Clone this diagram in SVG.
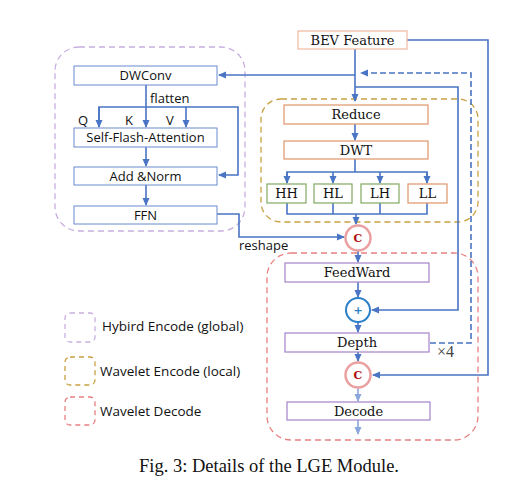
<svg xmlns="http://www.w3.org/2000/svg" width="528" height="497" viewBox="0 0 528 497">
<defs>
<marker id="ah" markerWidth="8" markerHeight="8" refX="7" refY="4" orient="auto" markerUnits="userSpaceOnUse"><path d="M0,0.5 L8,4 L0,7.5 Z" fill="#4a74c4"/></marker>
<marker id="ahl" markerWidth="8" markerHeight="8" refX="7" refY="4" orient="auto" markerUnits="userSpaceOnUse"><path d="M0,0.5 L8,4 L0,7.5 Z" fill="#8aa6dc"/></marker>
</defs>
<style>
.c{fill:none;stroke:#4a74c4;stroke-width:1.6}
.cl{fill:none;stroke:#8aa6dc;stroke-width:1.6}
.bl{fill:#fff;stroke:#6a8ad0;stroke-width:1}
.bo{fill:#fff;stroke:#e0956a;stroke-width:1.2}
.bg{fill:#fff;stroke:#80a860;stroke-width:1.2}
.bp{fill:#fff;stroke:#a482c8;stroke-width:1.2}
.s{font-family:"Open Sans","Liberation Sans",sans-serif;font-size:13px;fill:#111}
.lg{font-family:"Open Sans","Liberation Sans",sans-serif;font-size:13.5px;fill:#111}
.r{font-family:"DejaVu Serif","Liberation Serif",serif;font-size:13px;fill:#111}
.cc{fill:#fff;stroke:#eaa0a0;stroke-width:2.5}
.ct{font-family:"DejaVu Serif","Liberation Serif",serif;font-size:11px;font-weight:bold;fill:#b01010}
</style>
<rect width="528" height="497" fill="#fff"/>
<!-- containers -->
<g id="hybrid-container"><rect x="55" y="47" width="190" height="184" rx="24" fill="none" stroke="#c8aee0" stroke-width="1.3" stroke-dasharray="6,4"/></g>
<g id="wavelet-encode-container"><rect x="261" y="99" width="217" height="123" rx="20" fill="none" stroke="#c8a040" stroke-width="1.3" stroke-dasharray="6,4"/></g>
<g id="wavelet-decode-container"><rect x="267" y="253" width="211" height="187" rx="24" fill="none" stroke="#e88080" stroke-width="1.3" stroke-dasharray="6,4"/></g>
<!-- connectors -->
<g id="connectors">
<path class="c" d="M407,40 H488 V375 H373" marker-end="url(#ah)"/>
<path class="c" d="M355,49 V101" marker-end="url(#ah)"/>
<path class="c" d="M355,75 H219" marker-end="url(#ah)"/>
<path class="c" d="M355,87 H458 V310 H372" marker-end="url(#ah)"/>
<path class="c" d="M430,343 H471 V73 H361" stroke-dasharray="6,3" marker-end="url(#ah)"/>
<path class="c" d="M146,85 V127" marker-end="url(#ah)"/>
<path class="c" d="M99,127 V107 H238 V175 H219" marker-end="url(#ah)"/>
<path class="c" d="M99,107 V127" marker-end="url(#ah)"/>
<path class="c" d="M186,107 V127" marker-end="url(#ah)"/>
<path class="c" d="M146,147 V166" marker-end="url(#ah)"/>
<path class="c" d="M146,185 V205" marker-end="url(#ah)"/>
<path class="c" d="M217,214 H239 V237 H344" marker-end="url(#ah)"/>
<path class="c" d="M355,124 V140" marker-end="url(#ah)"/>
<path class="c" d="M355,159 V172 M287,183 V172 H427 V183" />
<path class="c" d="M287,172 V183" marker-end="url(#ah)"/>
<path class="c" d="M333,172 V183" marker-end="url(#ah)"/>
<path class="c" d="M380,172 V183" marker-end="url(#ah)"/>
<path class="c" d="M427,172 V183" marker-end="url(#ah)"/>
<path class="c" d="M287,203 V214 H427 V203 M333,203 V214 M380,203 V214"/>
<path class="c" d="M356,214 V224" marker-end="url(#ah)"/>
<path class="c" d="M358,251 V262" marker-end="url(#ah)"/>
<path class="c" d="M358,282 V297" marker-end="url(#ah)"/>
<path class="c" d="M358,322 V332" marker-end="url(#ah)"/>
<path class="c" d="M358,352 V361" marker-end="url(#ah)"/>
<path class="cl" d="M358,388 V401" marker-end="url(#ahl)"/>
<path class="cl" d="M358,420 V434" marker-end="url(#ahl)"/>
</g>
<!-- left nodes -->
<g id="dwconv"><rect class="bl" x="74" y="66" width="143" height="19"/><text class="s" x="145.5" y="80" text-anchor="middle">DWConv</text></g>
<g id="flatten-label"><text class="s" x="150" y="103">flatten</text></g>
<g id="qkv-labels"><text class="s" x="78" y="125">Q</text><text class="s" x="125" y="125">K</text><text class="s" x="166" y="125">V</text></g>
<g id="self-flash-attention"><rect class="bl" x="74" y="128" width="143" height="19"/><text class="s" x="145.5" y="142" text-anchor="middle">Self-Flash-Attention</text></g>
<g id="add-norm"><rect class="bl" x="74" y="167" width="143" height="18"/><text class="s" x="145.5" y="181" text-anchor="middle">Add &amp;Norm</text></g>
<g id="ffn"><rect class="bl" x="74" y="206" width="143" height="18"/><text class="s" x="145.5" y="220" text-anchor="middle">FFN</text></g>
<g id="reshape-label"><text class="s" x="239" y="250">reshape</text></g>
<!-- right nodes -->
<g id="bev-feature"><rect x="298" y="31" width="109" height="18" fill="#fff" stroke="#f0b8a0" stroke-width="1.2"/><text class="r" x="352.5" y="45" text-anchor="middle">BEV Feature</text></g>
<g id="reduce"><rect class="bo" x="284" y="105" width="144" height="19"/><text class="r" x="356" y="119" text-anchor="middle">Reduce</text></g>
<g id="dwt"><rect class="bo" x="284" y="141" width="144" height="18"/><text class="r" x="356" y="155" text-anchor="middle">DWT</text></g>
<g id="hh"><rect class="bg" x="267" y="184" width="39" height="19"/><text class="r" x="286.5" y="198" text-anchor="middle">HH</text></g>
<g id="hl"><rect class="bg" x="314" y="184" width="38" height="19"/><text class="r" x="333" y="198" text-anchor="middle">HL</text></g>
<g id="lh"><rect class="bg" x="361" y="184" width="38" height="19"/><text class="r" x="380" y="198" text-anchor="middle">LH</text></g>
<g id="ll"><rect class="bo" x="408" y="184" width="39" height="19"/><text class="r" x="427.5" y="198" text-anchor="middle">LL</text></g>
<g id="concat1"><circle class="cc" cx="358" cy="238" r="12.5"/><text class="ct" x="358" y="242" text-anchor="middle">C</text></g>
<g id="feedward"><rect class="bp" x="285" y="263" width="144" height="19"/><text class="r" x="357" y="277" text-anchor="middle">FeedWard</text></g>
<g id="add"><circle cx="358" cy="310" r="12" fill="#fff" stroke="#2a7fc8" stroke-width="2"/><text x="358" y="314" text-anchor="middle" font-family="DejaVu Sans,sans-serif" font-size="11" font-weight="bold" fill="#2a7fc8">+</text></g>
<g id="depth"><rect class="bp" x="285" y="333" width="144" height="19"/><text class="r" x="357" y="347" text-anchor="middle">Depth</text></g>
<g id="times4"><text x="437" y="357" font-family="Liberation Serif,serif" font-size="16" fill="#444">×4</text></g>
<g id="concat2"><circle class="cc" cx="358" cy="375" r="12.5"/><text class="ct" x="358" y="379" text-anchor="middle">C</text></g>
<g id="decode"><rect class="bp" x="287" y="402" width="143" height="18"/><text class="r" x="358.5" y="416" text-anchor="middle">Decode</text></g>
<!-- legend -->
<g id="legend">
<rect x="65" y="313" width="30" height="29" rx="5" fill="none" stroke="#c8aee0" stroke-width="1.3" stroke-dasharray="5,4"/>
<text class="lg" x="102" y="331">Hybird Encode (global)</text>
<rect x="65" y="357" width="30" height="28" rx="5" fill="none" stroke="#c8a040" stroke-width="1.3" stroke-dasharray="5,4"/>
<text class="lg" x="100" y="376">Wavelet Encode (local)</text>
<rect x="65" y="397" width="30" height="28" rx="5" fill="none" stroke="#e88080" stroke-width="1.3" stroke-dasharray="5,4"/>
<text class="lg" x="100" y="416">Wavelet Decode</text>
</g>
<g id="caption"><text x="269" y="472" text-anchor="middle" font-family="Liberation Serif,serif" font-size="18.5" fill="#111">Fig. 3: Details of the LGE Module.</text></g>
</svg>
